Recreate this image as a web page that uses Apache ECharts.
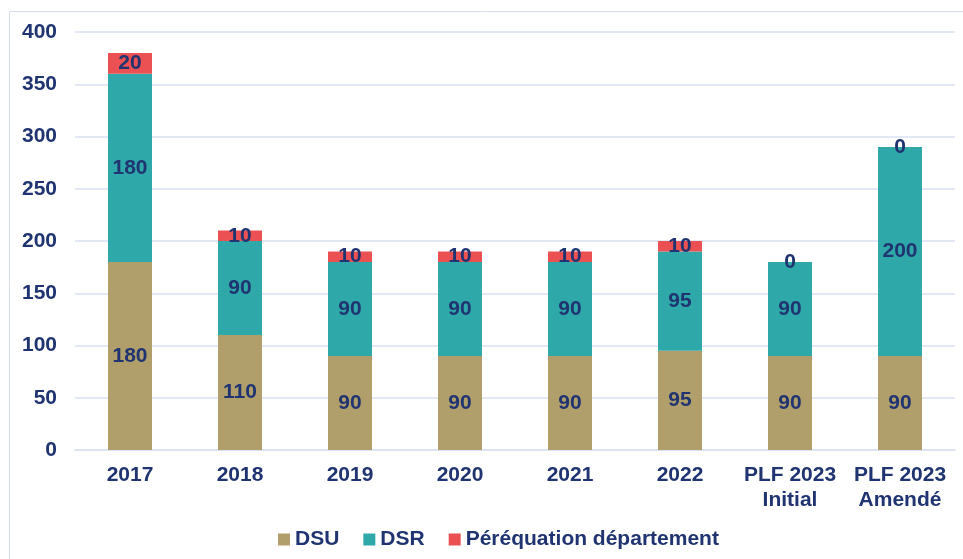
<!DOCTYPE html>
<html>
<head>
<meta charset="utf-8">
<script src="https://cdn.jsdelivr.net/npm/echarts@6/dist/echarts.min.js"></script>
<style>
	html, body { margin: 0; padding: 0; background: #fff; }
	#chart { width: 963px; height: 559px; }
</style>
</head>
<body>
<div id="chart"></div>
<script>
const categories = ["2017", "2018", "2019", "2020", "2021", "2022", "PLF 2023\nInitial", "PLF 2023\nAmendé"];
const dsu = [180, 110, 90, 90, 90, 95, 90, 90];
const dsr = [180, 90, 90, 90, 90, 95, 90, 200];
const perequation = [20, 10, 10, 10, 10, 10, 0, 0];

const textColor = "#1f3471";
const font = "Liberation Sans, Arial, sans-serif";

const labelStyle = {
	show: true,
	position: "inside",
	color: textColor,
	fontFamily: font,
	fontWeight: "bold",
	fontSize: 21,
};

function makeSeries(name, data, color) {
	return {
		name: name,
		type: "bar",
		stack: "total",
		data: data,
		barWidth: 44,
		itemStyle: { color: color },
		label: labelStyle,
	};
}

const option = {
	animation: false,
	graphic: [
		{
			type: "rect",
			shape: { x: 9.5, y: 11.5, width: 1000, height: 600 },
			style: { fill: "none", stroke: "#d6dce8", lineWidth: 1 },
		},
	],
	grid: {
		left: 75,
		right: 8,
		top: 32,
		bottom: 109,
	},
	legend: {
		bottom: 4,
		left: 273,
		itemWidth: 12,
		itemHeight: 12,
		itemGap: 24,
		icon: "rect",
		textStyle: {
			color: textColor,
			fontFamily: font,
			fontWeight: "bold",
			fontSize: 21,
		},
		data: ["DSU", "DSR", "Péréquation département"],
	},
	xAxis: {
		type: "category",
		data: categories,
		axisTick: { show: false },
		axisLine: { lineStyle: { color: "#d9e1f2", width: 1.5 } },
		axisLabel: {
			color: textColor,
			fontFamily: font,
			fontWeight: "bold",
			fontSize: 21,
			margin: 13,
			lineHeight: 25,
			interval: 0,
		},
	},
	yAxis: {
		type: "value",
		min: 0,
		max: 400,
		interval: 50,
		axisLine: { show: false },
		axisTick: { show: false },
		splitLine: { lineStyle: { color: "#d9e1f2", width: 1.5 } },
		axisLabel: {
			color: textColor,
			fontFamily: font,
			fontWeight: "bold",
			fontSize: 21,
			margin: 18,
		},
	},
	series: [
		makeSeries("DSU", dsu, "#b19f6b"),
		makeSeries("DSR", dsr, "#2ea8a9"),
		makeSeries("Péréquation département", perequation, "#eb5153"),
	],
};

const chart = echarts.init(document.getElementById("chart"));
chart.setOption(option);
</script>
</body>
</html>
